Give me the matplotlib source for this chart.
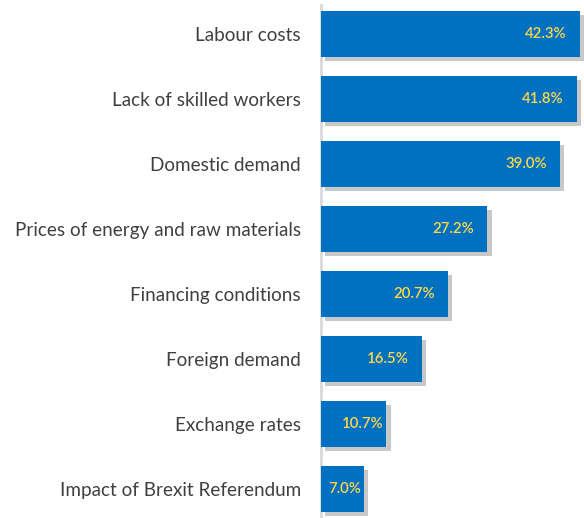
import matplotlib.pyplot as plt
import matplotlib.patheffects as pe

# reasons, top to bottom, with share of respondents (%)
reasons = ['Labour costs', 'Lack of skilled workers', 'Domestic demand',
           'Prices of energy and raw materials', 'Financing conditions',
           'Foreign demand', 'Exchange rates', 'Impact of Brexit Referendum']
shares = [42.3, 41.8, 39.0, 27.2, 20.7, 16.5, 10.7, 7.0]

bar_color = '#0070C0'
label_color = '#FFD84A'
text_color = '#404040'

plt.rcParams['font.family'] = ['Lato', 'DejaVu Sans']

fig = plt.figure(figsize=(5.84, 5.18), dpi=100)
ax = fig.add_axes([321 / 584, 0, 263 / 584, 1])

pos = list(range(len(reasons)))
bars = ax.barh(pos, shares, height=0.71, color=bar_color, zorder=3,
               path_effects=[pe.SimplePatchShadow(offset=(3, -3), shadow_rgbFace='#777777', alpha=0.4),
                             pe.Normal()])

for p, v in zip(pos, shares):
    off = -13 if v > 15 else -3
    ax.annotate(f'{v:.1f}%', xy=(v, p), xytext=(off, 0), textcoords='offset pixels',
                ha='right', va='center', color=label_color, fontsize=10.8,
                fontweight='semibold', zorder=4)

ax.set_xlim(0, 263 / 6.12)
ax.set_ylim(7.446, -0.523)
ax.set_yticks(pos)
ax.set_yticklabels(reasons, fontsize=13.6, color=text_color)
ax.tick_params(axis='y', length=0, pad=14.4)
ax.set_xticks([])
for s in ['top', 'right', 'bottom']:
    ax.spines[s].set_visible(False)
ax.spines['left'].set_color('#d9d9d9')
ax.spines['left'].set_linewidth(2)
ax.spines['left'].set_bounds(7.446, -0.45)

fig.savefig('out.png', dpi=100)
